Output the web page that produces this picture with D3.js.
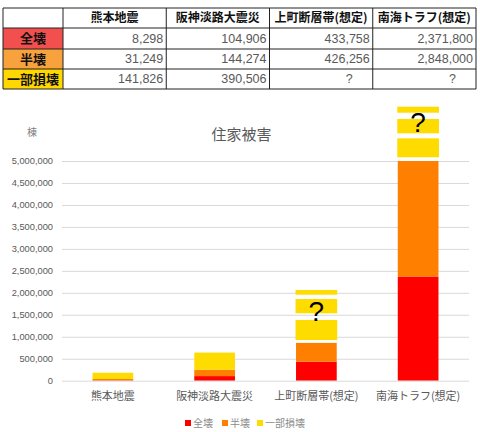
<!DOCTYPE html>
<html>
<head>
<meta charset="utf-8">
<script src="https://cdn.jsdelivr.net/npm/d3@7"></script>
<style>
	body { margin: 0; background: #fff; }
	svg text { font-family: "Noto Sans CJK JP", "Liberation Sans", sans-serif; }
</style>
</head>
<body>
<svg id="chart" width="480" height="432"></svg>
<script>
'use strict';

var categories = ['熊本地震', '阪神淡路大震災', '上町断層帯(想定)', '南海トラフ(想定)'];
var seriesNames = ['全壊', '半壊', '一部損壊'];
var zenkai = [8298, 104906, 433758, 2371800];
var hankai = [31249, 144274, 426256, 2848000];
var ichibu = [141826, 390506, null, null];
var yTicks = [0, 500000, 1000000, 1500000, 2000000, 2500000, 3000000, 3500000, 4000000, 4500000, 5000000];

// the "?" blocks stacked on the estimated bars (value ranges)
var unknownCats = ['上町断層帯(想定)', '南海トラフ(想定)'];
var unknownSpans = [
	[[926000, 1381000], [1534000, 1859000], [1957000, 2064000]],
	[[5084000, 5516000], [5630000, 5956000], [6099000, 6236000]]
];
var questionLevels = [1359000, 5667000];

var barColors = ['#ff0000', '#ff7f00', '#ffdc00'];
var cellColors = ['#f24f4f', '#f7a23c', '#ffd800'];

var svg = d3.select('#chart');
var fmt = d3.format(',');

// ---- table ----
var table = svg.append('g');
var tx = d3.scaleBand().domain(categories).range([63, 476]);
var rowTop = [8, 28, 49, 69, 89];
var rows = [zenkai, hankai, ichibu];

table.append('rect')
		.attr('x', 3).attr('y', rowTop[0])
		.attr('width', 473).attr('height', rowTop[4] - rowTop[0])
		.attr('fill', '#fff');

seriesNames.forEach(function(name, i) {
	table.append('rect')
			.attr('x', 3).attr('y', rowTop[i + 1])
			.attr('width', 60).attr('height', rowTop[i + 2] - rowTop[i + 1])
			.attr('fill', cellColors[i]);
	table.append('text')
			.attr('x', 33).attr('y', (rowTop[i + 1] + rowTop[i + 2]) / 2)
			.attr('dy', '.35em')
			.attr('text-anchor', 'middle')
			.attr('font-size', 13)
			.attr('font-weight', 'bold')
			.attr('fill', '#111')
			.text(name);

	categories.forEach(function(cat, j) {
		var v = rows[i][j];
		table.append('text')
				.attr('x', v == null ? tx(cat) + tx.bandwidth() - 20 : tx(cat) + tx.bandwidth() - 3)
				.attr('y', (rowTop[i + 1] + rowTop[i + 2]) / 2)
				.attr('dy', '.35em')
				.attr('text-anchor', 'end')
				.attr('font-size', 12.5)
				.attr('fill', '#595959')
				.style('font-family', '"Liberation Sans", sans-serif')
				.text(v == null ? '?' : fmt(v));
	});
});

categories.forEach(function(cat) {
	table.append('text')
			.attr('x', tx(cat) + tx.bandwidth() / 2)
			.attr('y', (rowTop[0] + rowTop[1]) / 2)
			.attr('dy', '.35em')
			.attr('text-anchor', 'middle')
			.attr('font-size', 12)
			.attr('font-weight', 'bold')
			.attr('fill', '#111')
			.text(cat);
});

// grid lines of the table
rowTop.forEach(function(y) {
	table.append('line')
			.attr('x1', 3).attr('x2', 476)
			.attr('y1', y).attr('y2', y)
			.attr('stroke', '#222').attr('stroke-width', 1);
});
[3, 63].concat(categories.map(function(c) { return tx(c) + tx.bandwidth(); })).forEach(function(x) {
	table.append('line')
			.attr('x1', x).attr('x2', x)
			.attr('y1', rowTop[0]).attr('y2', rowTop[4])
			.attr('stroke', '#222').attr('stroke-width', 1);
});

// ---- chart ----
var plot = {left: 62, right: 469, top: 161, bottom: 380.7};

var x = d3.scaleBand()
		.domain(categories)
		.range([plot.left, plot.right])
		.paddingInner(0.6)
		.paddingOuter(0.3);

var y = d3.scaleLinear()
		.domain([0, 5000000])
		.range([plot.bottom, plot.top]);

svg.append('g')
		.attr('transform', 'translate(' + plot.left + ',0)')
		.call(d3.axisLeft(y).tickValues(yTicks).tickFormat(fmt)
				.tickSize(-(plot.right - plot.left)).tickPadding(9))
		.call(function(g) {
			g.select('.domain').remove();
			g.selectAll('line').attr('stroke', '#d9d9d9');
			g.selectAll('text')
					.attr('fill', '#595959')
					.attr('font-size', 9.3)
					.style('font-family', '"Liberation Sans", sans-serif');
		});

svg.append('clipPath').attr('id', 'plotClip')
		.append('rect')
		.attr('x', plot.left).attr('y', plot.top)
		.attr('width', plot.right - plot.left)
		.attr('height', plot.bottom - plot.top);

var stackData = categories.map(function(cat, i) {
	return {cat: cat, '全壊': zenkai[i], '半壊': hankai[i], '一部損壊': ichibu[i] || 0};
});
var stacked = d3.stack().keys(seriesNames)(stackData);

svg.append('g')
		.attr('clip-path', 'url(#plotClip)')
		.selectAll('g')
		.data(stacked)
		.enter()
		.append('g')
		.attr('fill', function(d, i) { return barColors[i]; })
		.selectAll('rect')
		.data(function(d) { return d; })
		.enter()
		.append('rect')
		.attr('x', function(d) { return x(d.data.cat); })
		.attr('width', x.bandwidth())
		.attr('y', function(d) { return y(d[1]); })
		.attr('height', function(d) { return y(d[0]) - y(d[1]); });

// yellow "?" blocks
unknownCats.forEach(function(cat, i) {
	svg.append('g')
			.selectAll('rect')
			.data(unknownSpans[i])
			.enter()
			.append('rect')
			.attr('x', x(cat) - 0.5)
			.attr('width', x.bandwidth() + 1)
			.attr('y', function(d) { return y(d[1]); })
			.attr('height', function(d) { return y(d[0]) - y(d[1]); })
			.attr('fill', barColors[2]);
	svg.append('text')
			.attr('x', x(cat) + x.bandwidth() / 2)
			.attr('y', y(questionLevels[i]))
			.attr('text-anchor', 'middle')
			.attr('font-size', 28)
			.attr('fill', '#000')
			.style('font-family', '"Liberation Sans", sans-serif')
			.text('?');
});

svg.append('g')
		.attr('transform', 'translate(0,' + plot.bottom + ')')
		.call(d3.axisBottom(x).tickSize(0).tickPadding(12))
		.call(function(g) {
			g.select('.domain').remove();
			g.selectAll('text')
					.attr('fill', '#595959')
					.attr('font-size', 11);
		});

svg.append('text')
		.attr('x', 241.5).attr('y', 135)
		.attr('dy', '.35em')
		.attr('text-anchor', 'middle')
		.attr('font-size', 15)
		.attr('fill', '#595959')
		.text('住家被害');

svg.append('text')
		.attr('x', 32).attr('y', 132)
		.attr('dy', '.35em')
		.attr('text-anchor', 'middle')
		.attr('font-size', 10)
		.attr('fill', '#7f7f7f')
		.text('棟');

// legend
var legendX = [185, 222, 257];
var legend = svg.append('g')
		.selectAll('g')
		.data(seriesNames)
		.enter()
		.append('g')
		.attr('transform', function(d, i) { return 'translate(' + legendX[i] + ',423)'; });
legend.append('rect')
		.attr('x', 0).attr('y', -3)
		.attr('width', 6).attr('height', 6)
		.attr('fill', function(d, i) { return barColors[i]; });
legend.append('text')
		.attr('x', 8).attr('y', 0)
		.attr('dy', '.35em')
		.attr('font-size', 10)
		.attr('fill', '#8c8c8c')
		.text(function(d) { return d; });
</script>
</body>
</html>
